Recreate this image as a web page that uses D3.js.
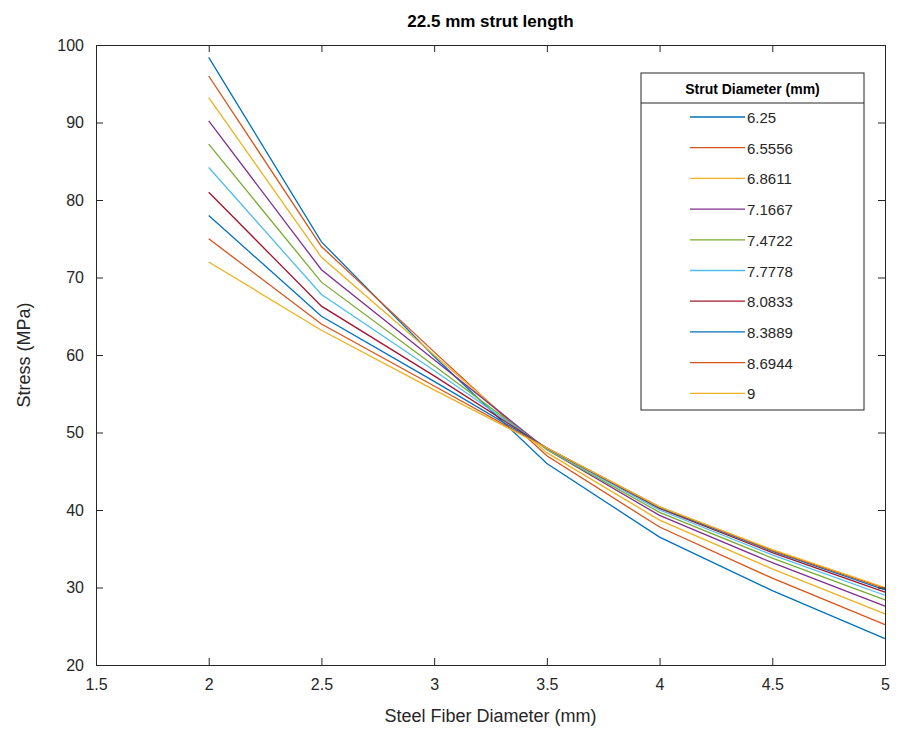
<!DOCTYPE html>
<html>
<head>
<meta charset="utf-8">
<script src="https://cdn.jsdelivr.net/npm/d3@7"></script>
<style>
  body { margin: 0; background: #fff; }
  svg text { font-family: "Liberation Sans", Arial, sans-serif; fill: #262626; }
</style>
</head>
<body>
<script>
// --- data ---
const fiberDiameters = [2, 2.5, 3, 3.5, 4, 4.5, 5];
const strutDiameters = ['6.25', '6.5556', '6.8611', '7.1667', '7.4722', '7.7778', '8.0833', '8.3889', '8.6944', '9'];
const stress625 = [98.4, 74.6, 59.8, 46.0, 36.5, 29.6, 23.4];
const stress65556 = [96.0, 74.0, 60.4, 47.0, 37.8, 31.2, 25.2];
const stress68611 = [93.2, 72.6, 60.0, 47.4, 38.7, 32.4, 26.6];
const stress71667 = [90.2, 71.0, 59.4, 47.8, 39.3, 33.2, 27.6];
const stress74722 = [87.2, 69.4, 58.6, 47.8, 39.7, 33.8, 28.4];
const stress77778 = [84.2, 67.8, 58.0, 47.9, 40.0, 34.2, 29.0];
const stress80833 = [81.0, 66.3, 57.3, 48.0, 40.2, 34.5, 29.4];
const stress83889 = [78.0, 65.0, 56.6, 48.0, 40.3, 34.7, 29.7];
const stress86944 = [75.0, 64.0, 56.0, 48.0, 40.4, 34.8, 29.9];
const stress9 = [72.0, 63.2, 55.5, 48.0, 40.4, 34.9, 30.0];
const allStress = [stress625, stress65556, stress68611, stress71667, stress74722,
  stress77778, stress80833, stress83889, stress86944, stress9];
const xTicks = [1.5, 2, 2.5, 3, 3.5, 4, 4.5, 5];
const yTicks = [20, 30, 40, 50, 60, 70, 80, 90, 100];

const colors = ['#0072BD', '#D95319', '#EDB120', '#7E2F8E', '#77AC30',
  '#4DBEEE', '#A2142F', '#0072BD', '#D95319', '#EDB120'];

// --- SVG setup ---
const W = 899, H = 755;
const margin = { top: 45, right: 14, bottom: 90, left: 96 };
const width = W - margin.left - margin.right, height = H - margin.top - margin.bottom;

const svg = d3.select("body").append("svg")
  .attr("width", W)
  .attr("height", H);
const g = svg.append("g")
  .attr("transform", `translate(${margin.left}, ${margin.top})`);

const x = d3.scaleLinear().domain([1.5, 5]).range([0, width]);
const y = d3.scaleLinear().domain([20, 100]).range([height, 0]);

// Curves
const line = d3.line()
  .x((d, i) => x(fiberDiameters[i]))
  .y(d => y(d));

g.selectAll(".curve")
  .data(allStress)
  .enter()
  .append("path")
  .attr("class", "curve")
  .attr("fill", "none")
  .attr("stroke", (d, i) => colors[i])
  .attr("stroke-width", 1.3)
  .attr("d", line);

// Axes (ticks inside, box on)
function styleAxis(sel) {
  sel.select(".domain").attr("stroke", "#262626").attr("stroke-width", 1);
  sel.selectAll(".tick line").attr("stroke", "#262626");
  sel.selectAll("text").attr("font-size", 16).attr("fill", "#262626")
    .attr("font-family", "Liberation Sans, Arial, sans-serif");
}
g.append("g")
  .attr("transform", `translate(0, ${height})`)
  .call(d3.axisBottom(x).tickValues(xTicks).tickSizeInner(-7).tickSizeOuter(0).tickPadding(14).tickFormat(d3.format("")))
  .call(styleAxis);
g.append("g")
  .call(d3.axisTop(x).tickValues(xTicks).tickSizeInner(-7).tickSizeOuter(0).tickFormat(""))
  .call(styleAxis);
g.append("g")
  .call(d3.axisLeft(y).tickValues(yTicks).tickSizeInner(-7).tickSizeOuter(0).tickPadding(12))
  .call(styleAxis);
g.append("g")
  .attr("transform", `translate(${width}, 0)`)
  .call(d3.axisRight(y).tickValues(yTicks).tickSizeInner(-7).tickSizeOuter(0).tickFormat(""))
  .call(styleAxis);

// Labels
svg.append("text")
  .attr("x", margin.left + width / 2)
  .attr("y", 27)
  .attr("text-anchor", "middle")
  .attr("font-size", 17)
  .attr("font-weight", "bold")
  .style("fill", "#000")
  .text("22.5 mm strut length");

svg.append("text")
  .attr("x", margin.left + width / 2)
  .attr("y", 722)
  .attr("text-anchor", "middle")
  .attr("font-size", 18)
  .text("Steel Fiber Diameter (mm)");

svg.append("text")
  .attr("transform", `translate(30, ${margin.top + height / 2}) rotate(-90)`)
  .attr("text-anchor", "middle")
  .attr("font-size", 18)
  .text("Stress (MPa)");

// Legend
const lg = svg.append("g").attr("transform", "translate(641, 73)");
const lgW = 223, lgH = 337, rowH = 30.7;
lg.append("rect")
  .attr("width", lgW).attr("height", lgH)
  .attr("fill", "#fff").attr("stroke", "#262626").attr("stroke-width", 1);
lg.append("line")
  .attr("x1", 0).attr("x2", lgW).attr("y1", 30).attr("y2", 30)
  .attr("stroke", "#262626");
lg.append("text")
  .attr("x", lgW / 2).attr("y", 21)
  .attr("text-anchor", "middle")
  .attr("font-size", 14)
  .attr("font-weight", "bold")
  .style("fill", "#000")
  .text("Strut Diameter (mm)");

const rows = lg.selectAll(".entry")
  .data(strutDiameters)
  .enter()
  .append("g")
  .attr("class", "entry")
  .attr("transform", (d, i) => `translate(0, ${44 + i * rowH})`);
rows.append("line")
  .attr("x1", 49).attr("x2", 104)
  .attr("stroke", (d, i) => colors[i])
  .attr("stroke-width", 1.3);
rows.append("text")
  .attr("x", 106).attr("y", 6)
  .attr("font-size", 15)
  .text(d => d);
</script>
</body>
</html>
